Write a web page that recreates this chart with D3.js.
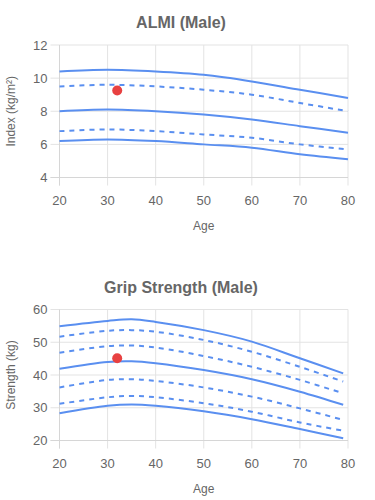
<!DOCTYPE html>
<html>
<head>
<meta charset="utf-8">
<script src="https://cdn.jsdelivr.net/npm/d3@7"></script>
<style>
  body { margin: 0; background: #fff; }
  text { font-family: "Liberation Sans", Arial, sans-serif; fill: #666; }
</style>
</head>
<body>
<div id="chart"></div>
<script>
// ALMI (Male) percentile curves
const almiAges = [20, 30, 40, 50, 60, 70, 80];
const almiTop = [10.4, 10.5, 10.4, 10.2, 9.8, 9.3, 8.8];
const almiUpperDash = [9.5, 9.6, 9.5, 9.3, 9.0, 8.5, 8.0];
const almiMid = [8.0, 8.1, 8.0, 7.8, 7.5, 7.1, 6.7];
const almiLowerDash = [6.8, 6.9, 6.8, 6.6, 6.4, 6.0, 5.7];
const almiBottom = [6.2, 6.3, 6.2, 6.0, 5.8, 5.4, 5.1];
const almiPoint = { age: 32, value: 9.25 };
const almiYTicks = [4, 6, 8, 10, 12];

// Grip strength (Male) percentile curves
const gripAges = [20, 30, 35, 40, 50, 60, 70, 79];
const gripTop = [54.9, 56.5, 57.0, 56.2, 53.7, 50.2, 45.1, 40.5];
const gripDash1 = [51.7, 53.5, 53.7, 53.2, 50.7, 47.1, 42.5, 38.0];
const gripDash2 = [46.8, 48.8, 49.0, 48.4, 45.8, 42.5, 38.5, 34.4];
const gripMid = [41.9, 44.0, 44.2, 43.6, 41.5, 38.7, 34.9, 30.9];
const gripDash3 = [36.2, 38.5, 38.7, 38.2, 36.2, 33.4, 29.8, 26.3];
const gripDash4 = [31.2, 33.2, 33.6, 33.2, 31.4, 28.8, 25.5, 23.0];
const gripBottom = [28.3, 30.6, 31.0, 30.6, 28.9, 26.5, 23.5, 20.7];
const gripPoint = { age: 32, value: 45.1 };
const gripYTicks = [20, 30, 40, 50, 60];

const ageTicks = [20, 30, 40, 50, 60, 70, 80];

const width = 375, height = 500;
const blue = "#5a8ff0";

const svg = d3.select("#chart")
    .append("svg")
    .attr("width", width)
    .attr("height", height);

function drawPanel(opts) {
    const left = 59.5, right = 348;
    const g = svg.append("g");
    const xScale = d3.scaleLinear().domain([20, 80]).range([left, right]);
    const yScale = d3.scaleLinear().domain(opts.yDomain).range([opts.bottom, opts.top]);

    // grid
    g.selectAll(".hgrid")
        .data(opts.yTicks)
        .enter()
        .append("line")
        .attr("x1", left - 9)
        .attr("x2", right)
        .attr("y1", d => yScale(d))
        .attr("y2", d => yScale(d))
        .attr("stroke", "#e3e3e3")
        .attr("stroke-width", 1);

    g.selectAll(".vgrid")
        .data(ageTicks)
        .enter()
        .append("line")
        .attr("x1", d => xScale(d))
        .attr("x2", d => xScale(d))
        .attr("y1", opts.top)
        .attr("y2", opts.bottom + 8)
        .attr("stroke", "#e3e3e3")
        .attr("stroke-width", 1);

    // axis lines
    g.append("line")
        .attr("x1", left).attr("x2", left)
        .attr("y1", opts.top).attr("y2", opts.bottom + 8)
        .attr("stroke", "#d6d6d6");
    g.append("line")
        .attr("x1", left - 9).attr("x2", right)
        .attr("y1", opts.bottom).attr("y2", opts.bottom)
        .attr("stroke", "#d6d6d6");

    // tick labels
    g.selectAll(".ylab")
        .data(opts.yTicks)
        .enter()
        .append("text")
        .attr("x", left - 12)
        .attr("y", d => yScale(d))
        .attr("dy", "0.35em")
        .style("font-size", "13px")
        .style("text-anchor", "end")
        .text(d => d);

    g.selectAll(".xlab")
        .data(ageTicks)
        .enter()
        .append("text")
        .attr("x", d => xScale(d))
        .attr("y", opts.bottom + 27)
        .style("font-size", "13px")
        .style("text-anchor", "middle")
        .text(d => d);

    // titles
    g.append("text")
        .attr("x", 181)
        .attr("y", opts.top - 17)
        .style("font-size", "16px")
        .style("font-weight", 700)
        .style("text-anchor", "middle")
        .text(opts.title);

    g.append("text")
        .attr("x", (left + right) / 2)
        .attr("y", opts.bottom + 52)
        .style("font-size", "12px")
        .style("text-anchor", "middle")
        .text("Age");

    g.append("text")
        .attr("transform", `translate(15, ${(opts.top + opts.bottom) / 2}) rotate(-90)`)
        .style("font-size", "12px")
        .style("text-anchor", "middle")
        .text(opts.yTitle);

    // curves
    const line = d3.line()
        .x((d, i) => xScale(opts.ages[i]))
        .y(d => yScale(d))
        .curve(d3.curveCatmullRom.alpha(0.5));

    opts.series.forEach(s => {
        g.append("path")
            .attr("d", line(s.values))
            .attr("fill", "none")
            .attr("stroke", blue)
            .attr("stroke-width", 2)
            .attr("stroke-dasharray", s.dashed ? "5,5" : null);
    });

    g.append("circle")
        .attr("cx", xScale(opts.point.age))
        .attr("cy", yScale(opts.point.value))
        .attr("r", 5)
        .attr("fill", "#e84141");
}

drawPanel({
    title: "ALMI (Male)",
    yTitle: "Index (kg/m²)",
    top: 45, bottom: 177.5,
    yDomain: [4, 12],
    yTicks: almiYTicks,
    ages: almiAges,
    series: [
        { values: almiTop, dashed: false },
        { values: almiUpperDash, dashed: true },
        { values: almiMid, dashed: false },
        { values: almiLowerDash, dashed: true },
        { values: almiBottom, dashed: false }
    ],
    point: almiPoint
});

drawPanel({
    title: "Grip Strength (Male)",
    yTitle: "Strength (kg)",
    top: 309.5, bottom: 440.5,
    yDomain: [20, 60],
    yTicks: gripYTicks,
    ages: gripAges,
    series: [
        { values: gripTop, dashed: false },
        { values: gripDash1, dashed: true },
        { values: gripDash2, dashed: true },
        { values: gripMid, dashed: false },
        { values: gripDash3, dashed: true },
        { values: gripDash4, dashed: true },
        { values: gripBottom, dashed: false }
    ],
    point: gripPoint
});
</script>
</body>
</html>
